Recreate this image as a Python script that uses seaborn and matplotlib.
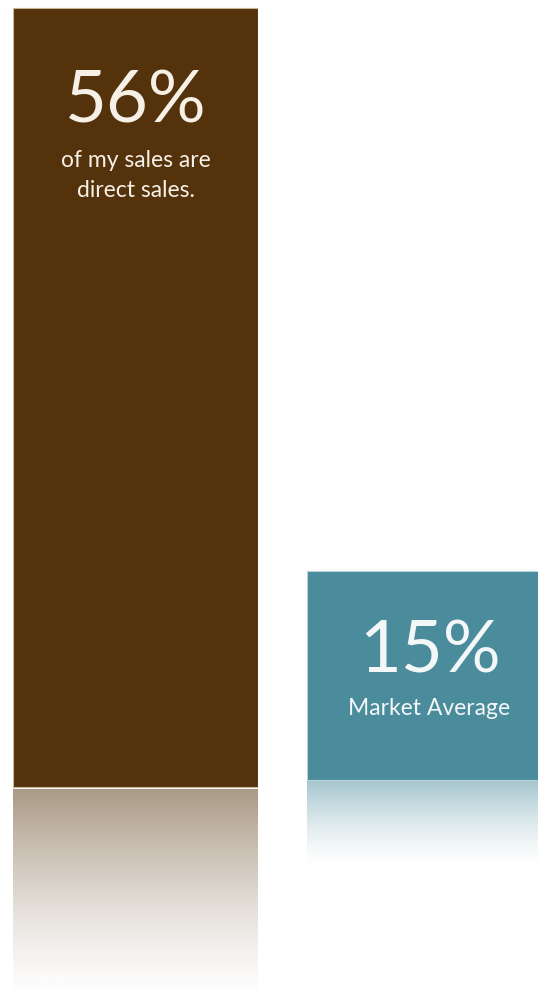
import numpy as np
import matplotlib.pyplot as plt
import seaborn as sns
from matplotlib.colors import to_rgb

# Data
labels = ["Direct sales", "Market average"]
values = [56, 15]
value_text = ["56%", "15%"]
caption_lines = [["of my sales are", "direct sales."], ["Market Average"]]

# Style / layout
bar_colors = ["#54330c", "#4a8b9c"]
edge_colors = ["#c8b497", "#b7d3da"]
text_colors = ["#f6f0e6", "#f3f7f8"]
reflect_px = [214, 86]          # how far the fading reflection reaches
W, H, DPI = 538, 996, 100
BAR_W = 245
LEFTS = [13, 307]               # left edge of each bar, px
BASE_FROM_TOP = [787, 779.5]    # baseline of each bar, px from top
PX_PER_UNIT = 779 / 56
BIG_OFFSET = [114, 101.5]       # px below bar top to baseline of big number
CAP_OFFSET = [[159, 189], [144.5]]

sns.set_theme(style="white")
plt.rcParams['font.family'] = ['Lato', 'DejaVu Sans']

fig = plt.figure(figsize=(W / DPI, H / DPI), dpi=DPI)
fig.patch.set_facecolor("white")

for i in range(len(values)):
    ax = fig.add_axes([LEFTS[i] / W, 0, BAR_W / W, 1])
    base = H - BASE_FROM_TOP[i]
    sns.barplot(x=[labels[i]], y=[values[i]], ax=ax, color=bar_colors[i],
                saturation=1, width=1, edgecolor=edge_colors[i], linewidth=0.8)

    # fading reflection under the bar
    depth = reflect_px[i] / PX_PER_UNIT
    gap = 2 / PX_PER_UNIT
    t = np.linspace(0, 1, 256)
    img = np.zeros((256, 1, 4))
    img[..., :3] = to_rgb(bar_colors[i])
    img[..., 3] = (0.5 * (1 - t) ** 1.4)[:, None]
    ax.imshow(img, extent=(-0.5, 0.5, -gap - depth, -gap), aspect="auto",
              origin="upper", interpolation="bilinear")

    ax.set_xlim(-0.5, 0.5)
    ax.set_ylim(-base / PX_PER_UNIT, (H - base) / PX_PER_UNIT)
    ax.axis("off")

    ax.annotate(value_text[i], xy=(0, values[i]),
                xytext=(0, -BIG_OFFSET[i] * 0.72), textcoords="offset points",
                ha="center", va="baseline", fontsize=52, color=text_colors[i])
    for line, off in zip(caption_lines[i], CAP_OFFSET[i]):
        ax.annotate(line, xy=(0, values[i]),
                    xytext=(0, -off * 0.72), textcoords="offset points",
                    ha="center", va="baseline", fontsize=16.5,
                    color=text_colors[i])

fig.savefig("out.png", dpi=DPI, facecolor="white")
